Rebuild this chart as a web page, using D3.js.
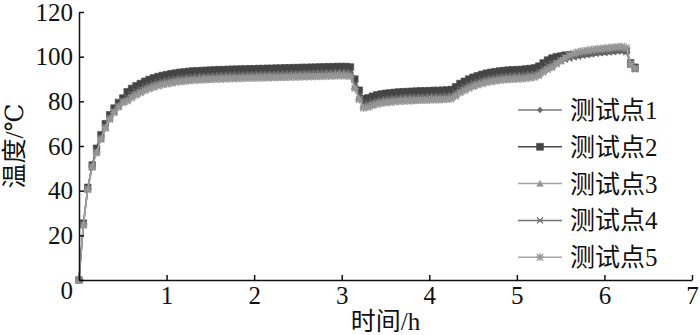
<!DOCTYPE html>
<html>
<head>
<meta charset="utf-8">
<script src="https://cdn.jsdelivr.net/npm/d3@7"></script>
<style>
  body { margin: 0; background: #fff; }
  svg text { font-family: "Liberation Serif", "DejaVu Serif", "Noto Sans CJK SC", serif; fill: #111; }
</style>
</head>
<body>
<div id="chart"></div>
<script>
// sampling every 3 minutes (0.05 h)
var sampleStepH = 0.05

var xTicks = [0, 1, 2, 3, 4, 5, 6, 7]
var yTicks = [0, 20, 40, 60, 80, 100, 120]

var seriesNames = ["测试点1", "测试点2", "测试点3", "测试点4", "测试点5"]

var point1 = [
    0, 25, 41, 51,
    58.4, 64.4, 69.4, 73.4, 76.4, 78.9, 80.9,
    83.1, 84.6, 85.8, 86.8, 87.8, 88.6, 89.3, 89.9, 90.4, 90.8,
    91.2, 91.5, 91.8, 92, 92.2, 92.4, 92.5, 92.6, 92.7, 92.8,
    92.9, 93, 93, 93.1, 93.2, 93.2, 93.3, 93.3, 93.4, 93.4,
    93.5, 93.5, 93.6, 93.6, 93.7, 93.7, 93.8, 93.8, 93.9, 93.9,
    94, 94, 94.1, 94.1, 94.2, 94.2, 94.3, 94.3, 94.4, 94.4, 94.4,
    94.2, 88.8, 83.8, 80, 80.4, 81.1, 81.7, 82.1, 82.4, 82.6, 82.8,
    83, 83.1, 83.2, 83.3, 83.4, 83.5, 83.5, 83.6, 83.7, 83.7, 83.8, 83.9, 84.1,
    85.3, 86.8, 87.8, 88.8, 89.6, 90.3, 90.9, 91.4, 91.8, 92.1, 92.4, 92.6, 92.8, 92.9,
    93, 93.1, 93.3, 93.5, 93.8, 94.6, 96, 97.3, 98.2, 98.8,
    99.3, 99.8, 100.1, 100.4, 100.7, 101, 101.3, 101.6, 101.9, 102.1,
    102.3, 102.5, 102.7, 102.9, 103, 102.6, 97, 95
]
var point2 = [
    0, 25.5, 41.5, 51.5,
    59, 65, 70, 74, 77, 79.5, 81.5,
    84.3, 85.8, 87, 88, 89, 89.8, 90.5, 91.1, 91.6, 92,
    92.4, 92.7, 93, 93.2, 93.4, 93.6, 93.7, 93.8, 93.9, 94,
    94.1, 94.2, 94.2, 94.3, 94.4, 94.4, 94.5, 94.5, 94.6, 94.6,
    94.7, 94.7, 94.8, 94.8, 94.9, 94.9, 95, 95, 95.1, 95.1,
    95.2, 95.2, 95.3, 95.3, 95.4, 95.4, 95.5, 95.5, 95.6, 95.6, 95.6,
    95.4, 90, 85, 81.2, 81.6, 82.3, 82.9, 83.3, 83.6, 83.8, 84,
    84.2, 84.3, 84.4, 84.5, 84.6, 84.7, 84.7, 84.8, 84.9, 84.9, 85, 85.1, 85.3,
    86.5, 88, 89, 90, 90.8, 91.5, 92.1, 92.6, 93, 93.3, 93.6, 93.8, 94, 94.1,
    94.2, 94.3, 94.5, 94.7, 95, 95.8, 97.2, 98.5, 99.4, 100,
    100.3, 100.7, 100.8, 100.9, 101.1, 101.3, 101.6, 101.9, 102.2, 102.4,
    102.6, 102.8, 103, 103.2, 103.3, 102.9, 97.3, 95.3
]
var point3 = [
    0, 24.8, 40.8, 50.8,
    57.2, 63.2, 68.2, 72.2, 75.2, 77.7, 79.7,
    80.7, 82.2, 83.4, 84.4, 85.4, 86.2, 86.9, 87.5, 88, 88.4,
    88.8, 89.1, 89.4, 89.6, 89.8, 90, 90.1, 90.2, 90.3, 90.4,
    90.5, 90.6, 90.6, 90.7, 90.8, 90.8, 90.9, 90.9, 91, 91,
    91.1, 91.1, 91.2, 91.2, 91.3, 91.3, 91.4, 91.4, 91.5, 91.5,
    91.6, 91.6, 91.7, 91.7, 91.8, 91.8, 91.9, 91.9, 92, 92, 92,
    91.8, 86.4, 81.4, 77.6, 78, 78.7, 79.3, 79.7, 80, 80.2, 80.4,
    80.6, 80.7, 80.8, 80.9, 81, 81.1, 81.1, 81.2, 81.3, 81.3, 81.4, 81.5, 81.7,
    82.9, 84.4, 85.4, 86.4, 87.2, 87.9, 88.5, 89, 89.4, 89.7, 90, 90.2, 90.4, 90.5,
    90.6, 90.7, 90.9, 91.1, 91.4, 92.2, 93.6, 94.9, 95.8, 97,
    98.2, 99.4, 100.3, 101.1, 101.6, 102, 102.3, 102.6, 102.9, 103.1,
    103.3, 103.5, 103.7, 103.9, 104, 103.6, 96.5, 94.5
]
var point4 = [
    0, 24.5, 40.5, 50.5,
    57.7, 63.7, 68.7, 72.7, 75.7, 78.2, 80.2,
    81.8, 83.3, 84.5, 85.5, 86.5, 87.3, 88, 88.6, 89.1, 89.5,
    89.9, 90.2, 90.5, 90.7, 90.9, 91.1, 91.2, 91.3, 91.4, 91.5,
    91.6, 91.7, 91.7, 91.8, 91.9, 91.9, 92, 92, 92.1, 92.1,
    92.2, 92.2, 92.3, 92.3, 92.4, 92.4, 92.5, 92.5, 92.6, 92.6,
    92.7, 92.7, 92.8, 92.8, 92.9, 92.9, 93, 93, 93.1, 93.1, 93.1,
    92.9, 87.5, 82.5, 78.7, 79.1, 79.8, 80.4, 80.8, 81.1, 81.3, 81.5,
    81.7, 81.8, 81.9, 82, 82.1, 82.2, 82.2, 82.3, 82.4, 82.4, 82.5, 82.6, 82.8,
    84, 85.5, 86.5, 87.5, 88.3, 89, 89.6, 90.1, 90.5, 90.8, 91.1, 91.3, 91.5, 91.6,
    91.7, 91.8, 92, 92.2, 92.5, 93.3, 94.7, 96, 96.9, 97.5,
    98.1, 98.7, 99.2, 99.7, 100.1, 100.5, 100.8, 101.1, 101.4, 101.6,
    101.8, 102, 102.2, 102.4, 102.5, 102.1, 96.5, 94.5
]
var point5 = [
    0, 24.6, 40.6, 50.6,
    57, 63, 68, 72, 75, 77.5, 79.5,
    80.1, 81.6, 82.8, 83.8, 84.8, 85.6, 86.3, 86.9, 87.4, 87.8,
    88.2, 88.5, 88.8, 89, 89.2, 89.4, 89.5, 89.6, 89.7, 89.8,
    89.9, 90, 90, 90.1, 90.2, 90.2, 90.3, 90.3, 90.4, 90.4,
    90.5, 90.5, 90.6, 90.6, 90.7, 90.7, 90.8, 90.8, 90.9, 90.9,
    91, 91, 91.1, 91.1, 91.2, 91.2, 91.3, 91.3, 91.4, 91.4, 91.4,
    91.2, 85.8, 80.8, 77, 77.4, 78.1, 78.7, 79.1, 79.4, 79.6, 79.8,
    80, 80.1, 80.2, 80.3, 80.4, 80.5, 80.5, 80.6, 80.7, 80.7, 80.8, 80.9, 81.1,
    82.3, 83.8, 84.8, 85.8, 86.6, 87.3, 87.9, 88.4, 88.8, 89.1, 89.4, 89.6, 89.8, 89.9,
    90, 90.1, 90.3, 90.5, 90.8, 91.6, 93, 94.3, 95.2, 96.8,
    98.2, 99.5, 100.6, 101.5, 102.1, 102.5, 102.8, 103.1, 103.4, 103.6,
    103.8, 104, 104.2, 104.4, 104.5, 104, 96.8, 94.8
]

var seriesValues = [point1, point2, point3, point4, point5]
var lineColors = ["#7c7c7c", "#4a4a4a", "#a3a3a3", "#717171", "#a6a6a6"]
var markColors = ["#646464", "#454545", "#939393", "#666666", "#969696"]
var markShapes = ["diamond", "square", "triangle", "times", "asterisk"]

var W = 700, H = 335
var m = {top: 12, right: 8, bottom: 55, left: 79}
var w = W - m.left - m.right,
    h = H - m.top - m.bottom

var x = d3.scaleLinear().domain([0, 7]).range([0, w])
var y = d3.scaleLinear().domain([0, 120]).range([h, 0])

var svg = d3.select("#chart").append("svg")
    .attr("width", W)
    .attr("height", H)

var g = svg.append("g")
    .attr("transform", "translate(" + m.left + "," + m.top + ")")

function markPath(shape, s) {
    var r = s / 2
    switch (shape) {
        case "diamond":
            return "M0," + (-r * 1.2) + "L" + r + ",0L0," + (r * 1.2) + "L" + (-r) + ",0Z"
        case "square":
            return "M" + (-r) + "," + (-r) + "h" + s + "v" + s + "h" + (-s) + "Z"
        case "triangle":
            return "M0," + (-r * 1.1) + "L" + (r * 1.1) + "," + (r * 0.9) + "L" + (-r * 1.1) + "," + (r * 0.9) + "Z"
        case "times":
            return "M" + (-r) + "," + (-r) + "L" + r + "," + r + "M" + r + "," + (-r) + "L" + (-r) + "," + r
        default:
            return "M" + (-r) + "," + (-r) + "L" + r + "," + r + "M" + r + "," + (-r) + "L" + (-r) + "," + r +
                "M0," + (-r * 1.2) + "V" + (r * 1.2) + "M" + (-r * 1.2) + ",0H" + (r * 1.2)
    }
}

function isStroke(shape) {
    return shape === "times" || shape === "asterisk"
}

var line = d3.line()
    .x(function (d, i) { return x(i * sampleStepH) })
    .y(function (d) { return y(d) })

var markSizes = [6, 6.5, 6.5, 6, 6.5]

// series: lines then markers
seriesValues.forEach(function (vals, k) {
    var sg = g.append("g").attr("class", "series")

    sg.append("path")
        .datum(vals)
        .attr("d", line)
        .attr("fill", "none")
        .attr("stroke", lineColors[k])
        .attr("stroke-width", 1.4)

    sg.selectAll("path.mk")
        .data(vals)
        .enter().append("path")
        .attr("class", "mk")
        .attr("transform", function (d, i) {
            return "translate(" + x(i * sampleStepH) + "," + y(d) + ")"
        })
        .attr("d", markPath(markShapes[k], markSizes[k]))
        .attr("fill", isStroke(markShapes[k]) ? "none" : markColors[k])
        .attr("stroke", markColors[k])
        .attr("stroke-width", isStroke(markShapes[k]) ? 1.4 : 0.6)
})

// axes, ticks point inward
var xAxis = d3.axisBottom(x)
    .tickValues(xTicks)
    .tickSizeInner(-5)
    .tickSizeOuter(0)
    .tickPadding(6)
    .tickFormat(function (d) { return d === 0 ? "" : d })

var yAxis = d3.axisLeft(y)
    .tickValues(yTicks)
    .tickSizeInner(-5)
    .tickSizeOuter(0)
    .tickPadding(6)
    .tickFormat(function (d) { return d === 0 ? "" : d })

var gx = g.append("g")
    .attr("transform", "translate(0," + h + ")")
    .call(xAxis)

var gy = g.append("g").call(yAxis)

;[gx, gy].forEach(function (a) {
    a.attr("font-family", null).attr("font-size", null)
    a.selectAll("path, line").attr("stroke", "#111").attr("stroke-width", 1.5)
    a.selectAll("text")
        .style("font-size", "25px")
        .attr("fill", "#111")
})

// shared origin label
g.append("text")
    .attr("x", -6)
    .attr("y", h + 19)
    .attr("text-anchor", "end")
    .style("font-size", "25px")
    .text("0")

// axis titles
g.append("text")
    .attr("x", w / 2)
    .attr("y", h + 50)
    .attr("text-anchor", "middle")
    .style("font-size", "25px")
    .text("时间/h")

svg.append("text")
    .attr("transform", "translate(23," + (m.top + h / 2) + ") rotate(-90)")
    .attr("text-anchor", "middle")
    .style("font-size", "25px")
    .text("温度/℃")

// legend
var legend = svg.append("g")
    .attr("transform", "translate(518,110)")

var legendSizes = [5, 7, 6, 6, 6.5]

seriesNames.forEach(function (name, k) {
    var row = legend.append("g")
        .attr("transform", "translate(0," + (k * 36.8) + ")")

    row.append("line")
        .attr("x1", 0)
        .attr("x2", 44)
        .attr("stroke", lineColors[k])
        .attr("stroke-width", 1.5)

    row.append("path")
        .attr("transform", "translate(22,0)")
        .attr("d", markPath(markShapes[k], legendSizes[k]))
        .attr("fill", isStroke(markShapes[k]) ? "none" : markColors[k])
        .attr("stroke", markColors[k])
        .attr("stroke-width", isStroke(markShapes[k]) ? 1.3 : 0.5)

    row.append("text")
        .attr("x", 52)
        .attr("dy", "0.36em")
        .style("font-size", "25px")
        .text(name)
})
</script>
</body>
</html>
